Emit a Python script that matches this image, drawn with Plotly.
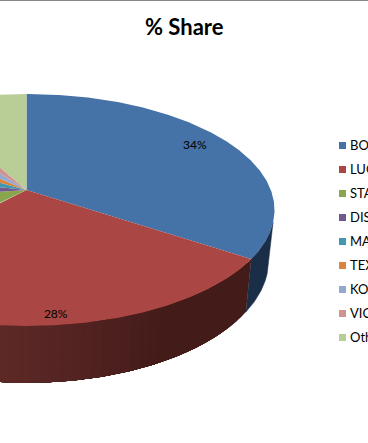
import math
import plotly.graph_objects as go

# ---- data ----
categories = ["BOI", "LUC", "STA", "DIST", "MA", "TEX", "KOC", "VIC", "Others"]
share = [34.4, 27.5, 10.9, 5.8, 4.9, 3.4, 3.0, 2.25, 7.95]
colors = ["#4572A7", "#AA4643", "#89A54E", "#71588F", "#4198AF",
          "#DB843D", "#93A9CF", "#D19392", "#B9CD96"]
shown_labels = {0: "34%", 1: "28%"}

# ---- projection of the tilted pie onto the page ----
CX, TOP_Y, BOT_Y = 26.5, 190.0, 239.0
A_TOP, B_TOP = 244.3, 112.55
A_BOT, B_BOT = 238.5, 119.0
K = 0.1724


def top_pt(theta, r=1.0):
    u, v = r * math.sin(theta), -r * math.cos(theta)
    d = 1 - K * v
    return CX + A_TOP * u / d, TOP_Y + B_TOP * v / d


def bot_pt(theta):
    u, v = math.sin(theta), -math.cos(theta)
    d = 1 - K * v
    return CX + A_BOT * u / d, BOT_Y + B_BOT * v / d


def arc(a0, a1, func):
    n = max(2, int(abs(a1 - a0) * 180 / math.pi * 2))
    return [func(a0 + (a1 - a0) * i / n) for i in range(n + 1)]


def poly(points, color, width=0.0):
    return go.Scatter(
        x=[p[0] for p in points] + [points[0][0]],
        y=[p[1] for p in points] + [points[0][1]],
        mode="lines", fill="toself", fillcolor=color,
        line=dict(color=color, width=width), hoverinfo="skip", showlegend=False,
    )


def mix(c0, c1, t):
    t = max(0.0, min(1.0, t))
    return "rgb(%d,%d,%d)" % tuple(round(a + (b - a) * t) for a, b in zip(c0, c1))


total = sum(share)
edges = [0.0]
for s in share:
    edges.append(edges[-1] + s / total * 2 * math.pi)

fig = go.Figure()

# rim: front-facing wedges only
rad = math.radians
a0, a1 = rad(106), edges[1]
fig.add_trace(poly(arc(a0, a1, top_pt) + arc(a1, a0, bot_pt), "#1A2E47", 0.5))
# red side: each strip runs to the wedge end and the next one paints over it
RIM_DARK, RIM_LIGHT = (67, 27, 25), (95, 42, 40)
n_strips = 48
for i in range(n_strips):
    s0 = edges[1] + (edges[2] - edges[1]) * i / n_strips
    s1 = edges[2]
    t = (math.degrees(s0) - 150) / (186 - 150)
    col = mix(RIM_DARK, RIM_LIGHT, t)
    fig.add_trace(poly(arc(s0, s1, top_pt) + arc(s1, s0, bot_pt), col, 0.0))

# top faces
for i, c in enumerate(colors):
    pts = [(CX, TOP_Y)] + arc(edges[i], edges[i + 1], top_pt)
    fig.add_trace(poly(pts, c))

# data labels
radial = {0: 0.84, 1: 0.93}
nudge = {0: (-1, -2), 1: (-3, 1)}
for i, text in shown_labels.items():
    mid = (edges[i] + edges[i + 1]) / 2
    x, y = top_pt(mid, radial[i])
    fig.add_trace(go.Scatter(
        x=[x + nudge[i][0]], y=[y + nudge[i][1]], mode="text", text=[text],
        textposition="middle center",
        textfont=dict(family="Lato", size=12, color="#000000"),
        hoverinfo="skip", showlegend=False,
    ))

# legend
legend_y = [145.5 + 24 * i for i in range(len(categories))]
fig.add_trace(go.Scatter(
    x=[342.5] * len(categories), y=legend_y, mode="markers",
    marker=dict(symbol="square", size=7, color=colors, line=dict(width=0)),
    hoverinfo="skip", showlegend=False,
))
fig.add_trace(go.Scatter(
    x=[350] * len(categories), y=[v + 1 for v in legend_y], mode="text", text=categories,
    textposition="middle right", cliponaxis=False,
    textfont=dict(family="Lato", size=13, color="#000000"),
    hoverinfo="skip", showlegend=False,
))

fig.add_annotation(
    x=184, y=26, text="<b>% Share</b>", showarrow=False, xanchor="center", yanchor="middle",
    font=dict(family="Lato", size=22, color="#000000"), xref="x", yref="y",
)
fig.add_shape(type="line", x0=0, x1=368, y0=0.5, y1=0.5, xref="x", yref="y",
              line=dict(color="#868686", width=1))

fig.update_layout(
    width=368, height=443, margin=dict(l=0, r=0, t=0, b=0),
    paper_bgcolor="#FFFFFF", plot_bgcolor="#FFFFFF",
    xaxis=dict(range=[0, 368], visible=False, fixedrange=True),
    yaxis=dict(range=[443, 0], visible=False, fixedrange=True),
    showlegend=False,
)
fig.write_html("out.html", config={"displayModeBar": False},
               post_script="document.body.style.margin='0';document.body.style.overflow='hidden';")
